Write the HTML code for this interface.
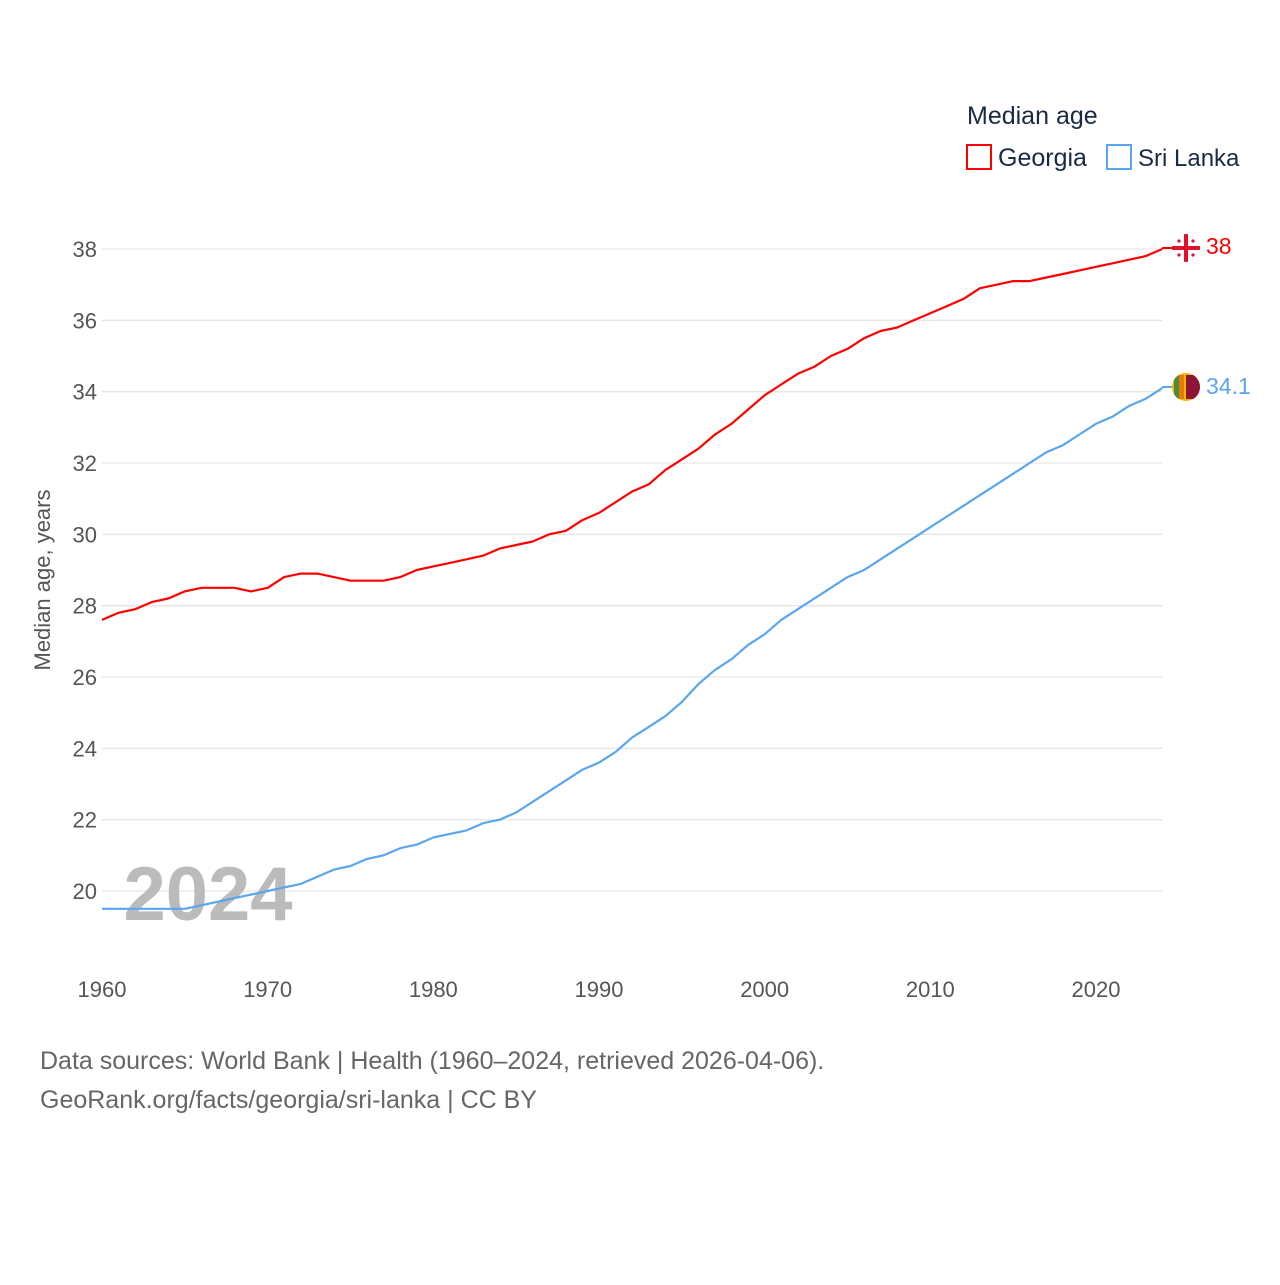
<!DOCTYPE html>
<html><head><meta charset="utf-8">
<style>
body{margin:0;background:#fff;font-family:"Liberation Sans",sans-serif;}
svg text{font-family:"Liberation Sans",sans-serif;}
</style></head>
<body>
<svg id="chart" width="1280" height="1280" viewBox="0 0 1280 1280">
<defs><clipPath id="lkclip"><circle cx="1186" cy="387" r="14"/></clipPath>
<clipPath id="geclip"><circle cx="1186" cy="248" r="14"/></clipPath></defs>
<rect width="1280" height="1280" fill="#fff"/>
<g id="grid"></g>
<g id="yticks"></g>
<g id="xticks"></g>
<text x="208" y="920" font-size="76" font-weight="bold" fill="#bbb" text-anchor="middle">2024</text>
<g id="lines"></g>
<line x1="1162" y1="248" x2="1174" y2="248" stroke="#f00" stroke-width="2"/>
<line x1="1162" y1="387" x2="1174" y2="387" stroke="#5aa6ee" stroke-width="2"/>
<text transform="translate(50,580) rotate(-90)" font-size="22" fill="#555" text-anchor="middle">Median age, years</text>
<text x="967" y="124" font-size="25" fill="#1a2a44">Median age</text>
<g>
<rect x="967" y="145" width="24" height="24" fill="none" stroke="#f00" stroke-width="2"/>
<text x="998" y="166" font-size="25" fill="#1a2a44">Georgia</text></g>
<g>
<rect x="1107" y="145" width="24" height="24" fill="none" stroke="#5aa6ee" stroke-width="2"/>
<text x="1138" y="166" font-size="24" fill="#1a2a44">Sri Lanka</text></g>
<g clip-path="url(#geclip)">
<circle cx="1186" cy="248" r="14" fill="#fff"/>
<rect x="1172" y="246" width="28" height="4" fill="#e0102a"/>
<rect x="1184" y="234" width="4" height="28" fill="#e0102a"/>
<circle cx="1179" cy="241" r="1.6" fill="#e0102a"/><circle cx="1193" cy="241" r="1.6" fill="#e0102a"/>
<circle cx="1179" cy="255" r="1.6" fill="#e0102a"/><circle cx="1193" cy="255" r="1.6" fill="#e0102a"/>
</g>
<text x="1206" y="254" font-size="23" fill="#f00">38</text>
<g clip-path="url(#lkclip)">
<rect x="1172" y="373" width="28" height="28" fill="#f8b400"/>
<rect x="1174" y="375" width="5" height="24" fill="#4a8c3a"/>
<rect x="1179" y="375" width="5" height="24" fill="#e87a00"/>
<rect x="1186" y="375" width="14" height="24" fill="#8d1538"/>
</g>
<text x="1206" y="394" font-size="23" fill="#5aa6ee">34.1</text>
<text x="40" y="1069" font-size="25" fill="#666">Data sources: World Bank | Health (1960–2024, retrieved 2026-04-06).</text>
<text x="40" y="1108" font-size="25" fill="#666">GeoRank.org/facts/georgia/sri-lanka | CC BY</text>
</svg>
<script>
const years=[];for(let y=1960;y<=2024;y++)years.push(y);
const georgia=[27.6,27.8,27.9,28.1,28.2,28.4,28.5,28.5,28.5,28.4,28.5,28.8,28.9,28.9,28.8,28.7,28.7,28.7,28.8,29.0,29.1,29.2,29.3,29.4,29.6,29.7,29.8,30.0,30.1,30.4,30.6,30.9,31.2,31.4,31.8,32.1,32.4,32.8,33.1,33.5,33.9,34.2,34.5,34.7,35.0,35.2,35.5,35.7,35.8,36.0,36.2,36.4,36.6,36.9,37.0,37.1,37.1,37.2,37.3,37.4,37.5,37.6,37.7,37.8,38.0];
const sriLanka=[19.5,19.5,19.5,19.5,19.5,19.5,19.6,19.7,19.8,19.9,20.0,20.1,20.2,20.4,20.6,20.7,20.9,21.0,21.2,21.3,21.5,21.6,21.7,21.9,22.0,22.2,22.5,22.8,23.1,23.4,23.6,23.9,24.3,24.6,24.9,25.3,25.8,26.2,26.5,26.9,27.2,27.6,27.9,28.2,28.5,28.8,29.0,29.3,29.6,29.9,30.2,30.5,30.8,31.1,31.4,31.7,32.0,32.3,32.5,32.8,33.1,33.3,33.6,33.8,34.1];
const yTicks=[20,22,24,26,28,30,32,34,36,38];
const xTicks=[1960,1970,1980,1990,2000,2010,2020];
const NS="http://www.w3.org/2000/svg";
const X=y=>102+(y-1960)*(994/60);
const Y=v=>891-(v-20)*(642/18);
function mk(tag,attrs,parent){const e=document.createElementNS(NS,tag);for(const k in attrs)e.setAttribute(k,attrs[k]);parent.appendChild(e);return e;}
const grid=document.getElementById('grid'),yt=document.getElementById('yticks'),xt=document.getElementById('xticks'),ln=document.getElementById('lines');
yTicks.forEach(t=>{
 const l=mk('line',{x1:102,x2:1162,y1:Y(t),y2:Y(t),stroke:'#e6e6e6','stroke-width':1.3},grid);
 
 
 const tx=mk('text',{x:97,y:Y(t)+8,'font-size':22,fill:'#555','text-anchor':'end'},yt);
 tx.textContent=t;
 
 
});
xTicks.forEach(t=>{
 const tx=mk('text',{x:X(t),y:997,'font-size':22,fill:'#555','text-anchor':'middle'},xt);
 tx.textContent=t;
 
 
});
function line(vals,color,name){
 const d=vals.map((v,i)=>(i?'L':'M')+X(years[i]).toFixed(1)+','+Y(v).toFixed(1)).join('');
 const p=mk('path',{d:d,fill:'none',stroke:color,'stroke-width':2.2,'stroke-linejoin':'round'},ln);
 
 
}
line(sriLanka,'#5aa6ee','sri-lanka-line');
line(georgia,'#f00','georgia-line');
</script>
</body></html>
